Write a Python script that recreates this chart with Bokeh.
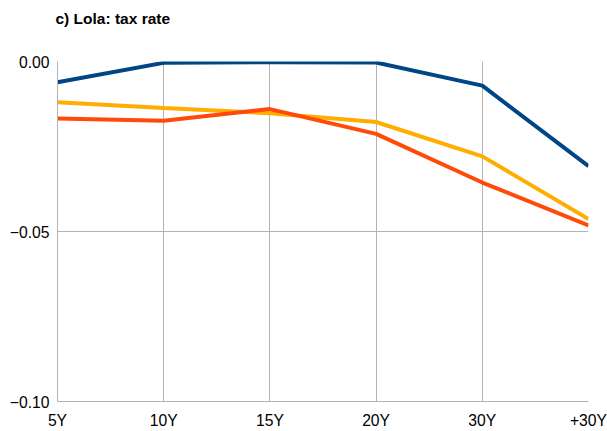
from bokeh.plotting import figure
from bokeh.models import Range1d, FixedTicker, CustomJSTickFormatter, Title
from bokeh.embed import file_html
from bokeh.resources import INLINE

categories = ["5Y", "10Y", "15Y", "20Y", "30Y", "+30Y"]
series_blue = [-0.0061, -0.0004, -0.0002, -0.0003, -0.0071, -0.0308]
series_yellow = [-0.0120, -0.0137, -0.0152, -0.0178, -0.0279, -0.0463]
series_red = [-0.0168, -0.0174, -0.0140, -0.0213, -0.0356, -0.0482]
y_ticks = [-0.10, -0.05, 0.0]
title_text = "c) Lola: tax rate"

xs = list(range(len(categories)))

p = figure(width=607, height=431, output_backend="svg", toolbar_location=None,
           x_range=Range1d(0, len(categories) - 1), y_range=Range1d(-0.10, 0.0),
           min_border_left=57, min_border_right=19, min_border_top=61, min_border_bottom=30)
p.title.text = title_text
p.title.text_font = "Liberation Sans"
p.title.text_font_size = "15.5px"
p.title.text_font_style = "bold"
p.title.text_color = "#000000"
p.title.align = "left"
p.title.offset = -2
p.title.standoff = 10
# spacer between title and plot frame
p.add_layout(Title(text=" ", text_font_size="1px", standoff=27), "above")

p.outline_line_color = None
p.background_fill_color = "white"
p.border_fill_color = "white"

p.xaxis.ticker = FixedTicker(ticks=xs)
p.xaxis.formatter = CustomJSTickFormatter(args=dict(labels=categories), code="return labels[Math.round(tick)];")
p.yaxis.ticker = FixedTicker(ticks=y_ticks)
p.yaxis.formatter = CustomJSTickFormatter(code="return (tick < -1e-9 ? '\u2212' : '') + Math.abs(tick).toFixed(2);")

for ax in (p.xaxis, p.yaxis):
    ax.axis_line_color = "#b3b3b3"
    ax.axis_line_width = 1
    ax.major_tick_line_color = None
    ax.minor_tick_line_color = None
    ax.major_tick_out = 0
    ax.major_tick_in = 0
    ax.major_label_text_font = "Liberation Sans"
    ax.major_label_text_font_size = "15.7px"
    ax.major_label_text_color = "#000000"
p.yaxis.major_label_standoff = 8
p.xaxis.major_label_standoff = 10

p.xgrid.ticker = FixedTicker(ticks=xs)
p.ygrid.ticker = FixedTicker(ticks=y_ticks)
p.grid.grid_line_color = "#b3b3b3"
p.grid.grid_line_width = 1

p.line(xs, series_blue, line_color="#004586", line_width=4)
p.line(xs, series_yellow, line_color="#ffae00", line_width=4)
p.line(xs, series_red, line_color="#ff4a0a", line_width=4)

open("out.html", "w").write(file_html(p, INLINE))
